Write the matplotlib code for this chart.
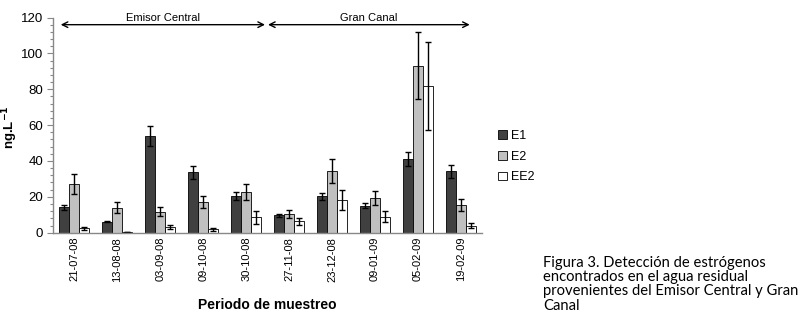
import matplotlib
matplotlib.use("Agg")
import matplotlib.pyplot as plt
import numpy as np
from matplotlib.ticker import MultipleLocator

fechas = ["21-07-08", "13-08-08", "03-09-08", "09-10-08", "30-10-08",
          "27-11-08", "23-12-08", "09-01-09", "05-02-09", "19-02-09"]
e1 = [14.2, 6.2, 54.0, 33.7, 20.3, 9.7, 20.3, 15.1, 41.3, 34.2]
e1_err = [1.5, 0.5, 5.6, 3.5, 2.3, 1.0, 2.1, 1.5, 3.9, 3.6]
e2 = [27.2, 14.0, 11.7, 17.1, 22.7, 10.3, 34.2, 19.2, 93.1, 15.3]
e2_err = [5.5, 3.0, 2.5, 3.6, 4.4, 2.3, 6.7, 3.8, 18.6, 3.4]
ee2 = [2.4, 0.2, 3.2, 2.0, 8.6, 6.4, 18.2, 8.9, 82.0, 3.9]
ee2_err = [1.0, 0.0, 1.0, 0.8, 3.5, 1.9, 5.4, 3.1, 24.6, 1.3]
series_names = ["E1", "E2", "EE2"]
series_colors = ["#404040", "#c0c0c0", "#ffffff"]
regiones = ["Emisor Central", "Gran Canal"]

plt.rcParams['font.family'] = ['Liberation Sans', 'DejaVu Sans']

fig = plt.figure(figsize=(8.09, 3.16), dpi=100)
ax = fig.add_axes([0.0655, 0.2636, 0.5305, 0.681])

x = np.arange(len(fechas))
w = 0.233
for i, (vals, errs, col, name) in enumerate(zip([e1, e2, ee2], [e1_err, e2_err, ee2_err],
                                                 series_colors, series_names)):
    ax.bar(x + (i - 1) * w, vals, width=w, color=col, edgecolor="black", linewidth=0.6,
           yerr=errs, error_kw=dict(ecolor="black", elinewidth=1.0, capsize=2.5, capthick=1.0),
           label=name, zorder=2)

ax.set_xlim(-0.5, len(fechas) - 0.5)
ax.set_ylim(0, 120)
ax.yaxis.set_major_locator(MultipleLocator(20))
ax.yaxis.set_minor_locator(MultipleLocator(4))
ax.set_xticks(x)
ax.set_xticklabels(fechas, rotation=90, fontsize=8)
ax.tick_params(axis='x', length=0, pad=3)
ax.tick_params(axis='y', which='major', length=4, width=0.8, color="#888888", labelsize=9.5, pad=3)
ax.tick_params(axis='y', which='minor', length=2.5, width=0.8, color="#888888")
for s in ["top", "right"]:
    ax.spines[s].set_visible(False)
for s in ["left", "bottom"]:
    ax.spines[s].set_color("#888888")
    ax.spines[s].set_linewidth(1.0)

ax.set_ylabel("ng.L$^{\\mathbf{-1}}$", fontsize=9.5, fontweight="bold")
ax.yaxis.set_label_coords(-0.077, 0.49)
ax.set_xlabel("Periodo de muestreo", fontsize=10, fontweight="bold", labelpad=12)

# region arrows
bounds = [(-0.32, 4.44), (4.51, 9.21)]
for (a, b), name in zip(bounds, regiones):
    ax.annotate("", xy=(a, 116), xytext=(b, 116),
                arrowprops=dict(arrowstyle="<->", color="black", lw=1.0,
                                shrinkA=0, shrinkB=0, mutation_scale=10),
                annotation_clip=False)
    ax.text((a + b) / 2, 119.5, name, ha="center", va="center", fontsize=8)

leg = fig.legend(loc="upper left", bbox_to_anchor=(0.61, 0.605), frameon=False,
                 fontsize=9, handlelength=0.7, handleheight=0.7, handletextpad=0.3,
                 labelspacing=0.7, borderaxespad=0)

fig.text(0.671, 0.19, "Figura 3. Detección de estrógenos\nencontrados en el agua residual\n"
         "provenientes del Emisor Central y Gran\nCanal",
         ha="left", va="top", fontsize=10.6, family=["Lato", "DejaVu Sans"],
         linespacing=1.02)

fig.savefig("out.png", dpi=100)
